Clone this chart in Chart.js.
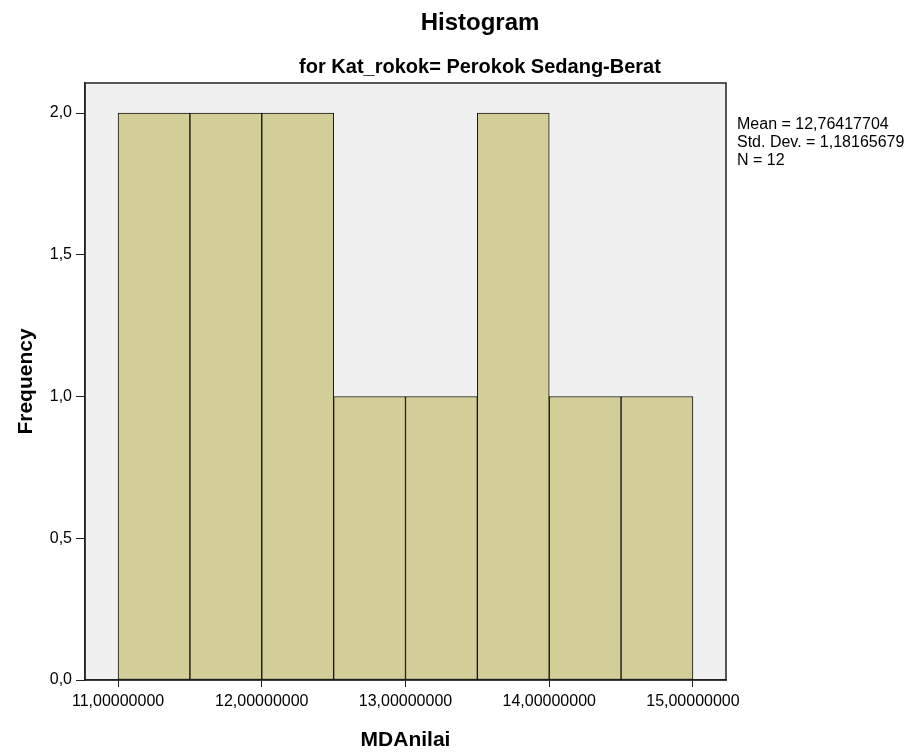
<!DOCTYPE html>
<html lang="id">
<head>
<meta charset="UTF-8">
<title>Histogram MDAnilai</title>
<script src="https://cdn.jsdelivr.net/npm/chart.js@4.4.4/dist/chart.umd.min.js"></script>
<style>
  body { margin: 0; background: #fff; }
  canvas { display: block; }
</style>
</head>
<body>
<canvas id="hist" width="919" height="754"></canvas>
<script>
// Data histogram
const binStarts = [11.0, 11.5, 12.0, 12.5, 13.0, 13.5, 14.0, 14.5];
const binWidth = 0.5;
const frequencies = [2, 2, 2, 1, 1, 2, 1, 1];
const xTickValues = [11, 12, 13, 14, 15];
const yTickValues = [0, 0.5, 1.0, 1.5, 2.0];
const statsLines = ['Mean = 12,76417704', 'Std. Dev. = 1,18165679', 'N = 12'];

const FONT = "'Liberation Sans', Arial, sans-serif";

// Teks judul, label sumbu dan statistik
const decorPlugin = {
  id: 'decor',
  beforeDraw(chart) {
    const c = chart.ctx, a = chart.chartArea;
    c.save();
    c.fillStyle = '#fff';
    c.fillRect(0, 0, chart.width, chart.height);
    c.fillStyle = '#F0F0F0';
    c.fillRect(a.left, a.top, a.right - a.left, a.bottom - a.top);
    c.restore();
  },
  afterDraw(chart) {
    const c = chart.ctx, a = chart.chartArea;
    c.save();
    c.strokeStyle = '#222';
    c.lineWidth = 1.5;
    c.strokeRect(a.left, a.top, a.right - a.left, a.bottom - a.top);

    c.fillStyle = '#000';
    c.textAlign = 'center';
    c.textBaseline = 'alphabetic';
    c.font = 'bold 24px ' + FONT;
    c.fillText('Histogram', 480, 30);
    c.font = 'bold 20px ' + FONT;
    c.fillText('for Kat_rokok= Perokok Sedang-Berat', 480, 73);

    c.font = 'bold 21px ' + FONT;
    c.fillText('MDAnilai', (a.left + a.right) / 2, 746);

    c.save();
    c.translate(32, (a.top + a.bottom) / 2);
    c.rotate(-Math.PI / 2);
    c.fillText('Frequency', 0, 0);
    c.restore();

    c.textAlign = 'left';
    c.font = '16px ' + FONT;
    statsLines.forEach((t, i) => c.fillText(t, 737, 129 + i * 18));
    c.restore();
  }
};

const fmt = (v, d) => v.toFixed(d).replace('.', ',');

new Chart(document.getElementById('hist'), {
  type: 'bar',
  data: {
    datasets: [{
      data: binStarts.map((s, i) => ({ x: s + binWidth / 2, y: frequencies[i] })),
      backgroundColor: '#D3CE97',
      borderColor: '#111',
      borderWidth: 1,
      borderSkipped: false,
      barPercentage: 1,
      categoryPercentage: 1
    }]
  },
  options: {
    responsive: false,
    animation: false,
    layout: { padding: { top: 83, right: 193, left: 0, bottom: 0 } },
    plugins: { legend: { display: false }, tooltip: { enabled: false } },
    scales: {
      x: {
        type: 'linear',
        offset: false,
        min: 10.77,
        max: 15.23,
        afterBuildTicks: s => { s.ticks = xTickValues.map(v => ({ value: v })); },
        afterFit: s => { s.height = 74; },
        grid: { offset: false, drawOnChartArea: false, drawTicks: true, tickLength: 7, color: '#222' },
        border: { display: true, color: '#222', width: 1.5 },
        ticks: {
          padding: 5,
          color: '#000',
          font: { family: FONT, size: 16 },
          callback: v => fmt(v, 8)
        }
      },
      y: {
        min: 0,
        max: 2.106,
        afterBuildTicks: s => { s.ticks = yTickValues.map(v => ({ value: v })); },
        afterFit: s => { s.width = 85; },
        grid: { drawOnChartArea: false, drawTicks: true, tickLength: 9, color: '#222' },
        border: { display: true, color: '#222', width: 1.5 },
        ticks: {
          padding: 4,
          color: '#000',
          font: { family: FONT, size: 16 },
          callback: v => fmt(v, 1)
        }
      }
    }
  },
  plugins: [decorPlugin]
});
</script>
</body>
</html>
